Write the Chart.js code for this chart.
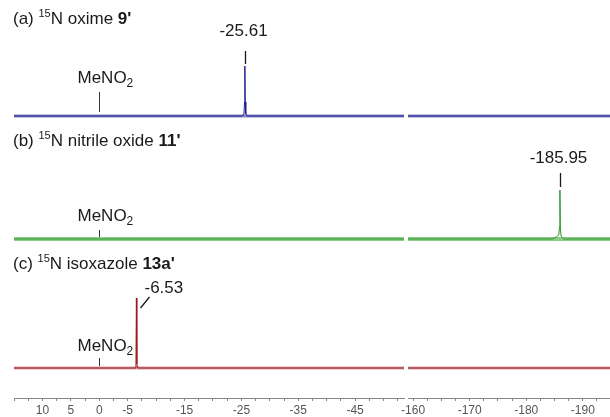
<!DOCTYPE html>
<html><head><meta charset="utf-8">
<script src="https://cdn.jsdelivr.net/npm/chart.js@4.4.1/dist/chart.umd.min.js"></script>
<style>
html,body{margin:0;padding:0;background:#fff;}
#wrap{position:relative;width:610px;height:417px;overflow:hidden;background:#fff;}
#left{position:absolute;left:0;top:0;}
#right{position:absolute;left:388px;top:0;}
</style></head><body>
<div id="wrap"><canvas id="left" width="406" height="417" style="width:406px;height:417px"></canvas><canvas id="right" width="222" height="417" style="width:222px;height:417px"></canvas></div>
<script>
// ---- data (ppm, 15N) ----
const leftRange  = [15.0, -53.6];
const rightRange = [-159.1, -194.8];
const leftTickLabels  = [10, 5, 0, -5, -15, -25, -35, -45];
const rightTickLabels = [-160, -170, -180, -190];
const minorStep = 2.5;

const oximePpm = [15, -25.2, -25.45, -25.55, -25.61, -25.67, -25.77, -26.0, -195];
const oximeInt = [0, 0, 2, 14, 50, 14, 2, 0, 0];

const nitrilePpm = [15, -184.6, -185.3, -185.75, -185.88, -185.95, -186.02, -186.15, -186.6, -195];
const nitrileInt = [0, 0, 2, 4, 12, 49, 12, 3, 0, 0];

const isoxPpm = [15, -6.3, -6.45, -6.53, -6.61, -6.8, -195];
const isoxInt = [0, 0, 4, 70, 4, 0, 0];

const peakPpm    = [-25.61, -185.95, -6.53];
const peakLabels = ['-25.61', '-185.95', '-6.53'];
const refPpm = 0; // MeNO2
const tags = ['(a)', '(b)', '(c)'];
const names = ['N oxime ', 'N nitrile oxide ', 'N isoxazole '];
const compounds = ["9'", "11'", "13a'"];

// ---- layout / style ----
const FAM = '"Liberation Sans", Arial, Helvetica, sans-serif';
const colors = ['#1c1c8a', '#2a962a', '#9c1a1e'];
const bandColors = ['rgba(35,35,150,0.55)', 'rgba(45,160,45,0.55)', 'rgba(160,30,35,0.45)'];
const bandWidths = [3.2, 3.8, 2.8];
const offsets = [282, 159, 30];
const series = [[oximePpm, oximeInt], [nitrilePpm, nitrileInt], [isoxPpm, isoxInt]];
const titleBase = [24, 146, 269];
const refGeom = [ {t1:-24, t2:-4, ly:-39}, {t1:-9, t2:-2, ly:-24}, {t1:-10, t2:-2, ly:-23} ];

function drawParts(ctx, x, y, parts) {
  let cx = x;
  parts.forEach(p => {
    ctx.font = p.font;
    ctx.fillText(p.t, cx, y + (p.dy || 0));
    cx += ctx.measureText(p.t).width;
  });
}

const annot = {
  id: 'annot',
  afterDatasetsDraw(chart, args, opts) {
    const ctx = chart.ctx, xs = chart.scales.x, ys = chart.scales.y;
    const inRange = v => v <= xs.max && v >= xs.min;
    ctx.save();
    ctx.fillStyle = '#1a1a1a';
    ctx.strokeStyle = '#1a1a1a';
    ctx.textBaseline = 'alphabetic';
    for (let i = 0; i < 3; i++) {
      const by = ys.getPixelForValue(offsets[i]);
      if (inRange(refPpm)) {
        const rx = Math.round(xs.getPixelForValue(refPpm)) + 0.5;
        const g = refGeom[i];
        ctx.lineWidth = 1;
        ctx.strokeStyle = '#333';
        ctx.beginPath(); ctx.moveTo(rx, by + g.t1); ctx.lineTo(rx, by + g.t2); ctx.stroke();
        drawParts(ctx, rx - 22, by + g.ly + 6, [
          {t: 'MeNO', font: '17px ' + FAM},
          {t: '2', font: '12px ' + FAM, dy: 4}
        ]);
      }
      if (opts.titles) {
        drawParts(ctx, 13, titleBase[i], [
          {t: tags[i] + ' ', font: '17px ' + FAM},
          {t: '15', font: '11px ' + FAM, dy: -7},
          {t: names[i], font: '17px ' + FAM},
          {t: compounds[i], font: 'bold 17px ' + FAM}
        ]);
      }
      if (inRange(peakPpm[i])) {
        const px = Math.round(xs.getPixelForValue(peakPpm[i])) + 0.5;
        ctx.font = '17px ' + FAM;
        ctx.lineWidth = 1.3;
        ctx.strokeStyle = '#1a1a1a';
        if (i === 2) {
          ctx.beginPath(); ctx.moveTo(px + 4, by - 60); ctx.lineTo(px + 13, by - 71); ctx.stroke();
          ctx.textAlign = 'left';
          ctx.fillText(peakLabels[i], px + 8, by - 75);
        } else {
          const g = i === 0 ? {t1:-65, t2:-52, ly:-80} : {t1:-66, t2:-52, ly:-76};
          ctx.beginPath(); ctx.moveTo(px, by + g.t1); ctx.lineTo(px, by + g.t2); ctx.stroke();
          ctx.textAlign = 'center';
          ctx.fillText(peakLabels[i], px - 2, by + g.ly);
        }
        ctx.textAlign = 'left';
      }
    }
    ctx.restore();
  }
};

function makeTicks(range) {
  const hi = Math.max(...range), lo = Math.min(...range);
  const out = [];
  for (let k = Math.floor(hi / minorStep); k * minorStep >= lo; k--) out.push(k * minorStep);
  return out;
}

function makeChart(id, range, labels, padL, padR, titles) {
  const ticks = makeTicks(range);
  const datasets = [];
  series.forEach((s, i) => {
    datasets.push({
      data: [{x: s[0][0], y: offsets[i]}, {x: s[0][s[0].length - 1], y: offsets[i]}],
      borderColor: bandColors[i], borderWidth: bandWidths[i], pointRadius: 0, tension: 0
    });
    datasets.push({
      data: s[0].map((p, j) => ({x: p, y: s[1][j] + offsets[i]})),
      borderColor: colors[i], borderWidth: 1, pointRadius: 0, tension: 0
    });
  });
  return new Chart(document.getElementById(id), {
    type: 'line',
    data: { datasets },
    options: {
      responsive: false, animation: false, devicePixelRatio: 1,
      layout: { padding: { left: padL, right: padR, top: 0, bottom: 0 } },
      plugins: { legend: { display: false }, tooltip: { enabled: false }, annot: { titles } },
      scales: {
        x: {
          type: 'linear', reverse: true,
          min: Math.min(...range), max: Math.max(...range),
          afterBuildTicks: s => { s.ticks = ticks.map(v => ({ value: v })); },
          afterFit: s => { s.height = 19; s.paddingLeft = 0; s.paddingRight = 0; },
          ticks: {
            autoSkip: false, maxRotation: 0, minRotation: 0, padding: 2,
            color: '#555', font: { family: FAM, size: 12 },
            callback: v => labels.includes(v) ? String(v) : ''
          },
          grid: { drawOnChartArea: false, drawTicks: true, tickLength: 3, color: '#888' },
          border: { display: true, color: '#888', width: 1 }
        },
        y: { display: false, min: 0, max: 398 }
      }
    },
    plugins: [annot]
  });
}

makeChart('left', leftRange, leftTickLabels, 14, 2, true);
makeChart('right', rightRange, rightTickLabels, 20, 0, false);
</script>
</body></html>
